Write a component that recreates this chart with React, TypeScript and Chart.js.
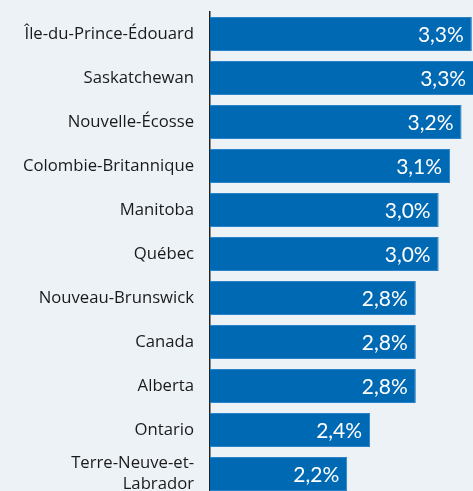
import React, { useEffect, useRef } from "react";
import { Chart, registerables } from "chart.js";

Chart.register(...registerables);

const categories: (string | string[])[] = [
  "Île-du-Prince-Édouard",
  "Saskatchewan",
  "Nouvelle-Écosse",
  "Colombie-Britannique",
  "Manitoba",
  "Québec",
  "Nouveau-Brunswick",
  "Canada",
  "Alberta",
  "Ontario",
  ["Terre-Neuve-et-", "Labrador"],
];

const values: number[] = [3.29, 3.31, 3.2, 3.1, 3.0, 3.0, 2.8, 2.8, 2.8, 2.4, 2.2];

const valueLabels: string[] = ["3,3%", "3,3%", "3,2%", "3,1%", "3,0%", "3,0%", "2,8%", "2,8%", "2,8%", "2,4%", "2,2%"];

const BG = "#edf2f7";
const BAR = "#0069b4";

const valueLabelPlugin = {
  id: "valueLabels",
  afterDatasetsDraw(chart: any) {
    const ctx = chart.ctx;
    const meta = chart.getDatasetMeta(0);
    ctx.save();
    ctx.fillStyle = "#ffffff";
    ctx.font = "21px Lato, 'Open Sans', sans-serif";
    ctx.textAlign = "right";
    ctx.textBaseline = "middle";
    meta.data.forEach((bar: any, i: number) => {
      ctx.fillText(valueLabels[i], bar.x - 8, bar.y + 1);
    });
    ctx.restore();
  },
};

export default function App() {
  const ref = useRef<HTMLCanvasElement | null>(null);

  useEffect(() => {
    document.body.style.margin = "0";
    document.body.style.background = BG;
    document.body.style.overflow = "hidden";
    const chart = new Chart(ref.current!, {
      type: "bar",
      data: {
        labels: categories,
        datasets: [
          {
            data: values,
            backgroundColor: BAR,
            borderColor: "#2c82c6",
            borderWidth: 1,
            borderSkipped: "left",
            barPercentage: 0.77,
            categoryPercentage: 1,
          },
        ],
      },
      options: {
        indexAxis: "y",
        animation: false,
        responsive: false,
        maintainAspectRatio: false,
        layout: { padding: { top: 12, bottom: 12, left: 0, right: 0 } },
        plugins: {
          legend: { display: false },
          tooltip: { enabled: false },
          title: { display: false },
        },
        scales: {
          x: {
            display: false,
            min: 1,
            max: 3.3,
          },
          y: {
            grid: { display: false, drawTicks: false },
            border: { display: true, color: "#222222", width: 1.5 },
            ticks: {
              color: "#1a1a1a",
              font: { family: "'Open Sans', Lato, sans-serif", size: 16.7, lineHeight: 1.25 },
              padding: 16,
              autoSkip: false,
            },
            afterFit(scale: any) {
              scale.width = 210;
              scale.paddingTop = 0;
              scale.paddingBottom = 0;
            },
          },
        },
      },
      plugins: [valueLabelPlugin],
    });
    return () => chart.destroy();
  }, []);

  return (
    <div style={{ width: 473, height: 491, overflow: "hidden", background: BG }}>
      <canvas ref={ref} width={473} height={508} style={{ display: "block" }} />
    </div>
  );
}
